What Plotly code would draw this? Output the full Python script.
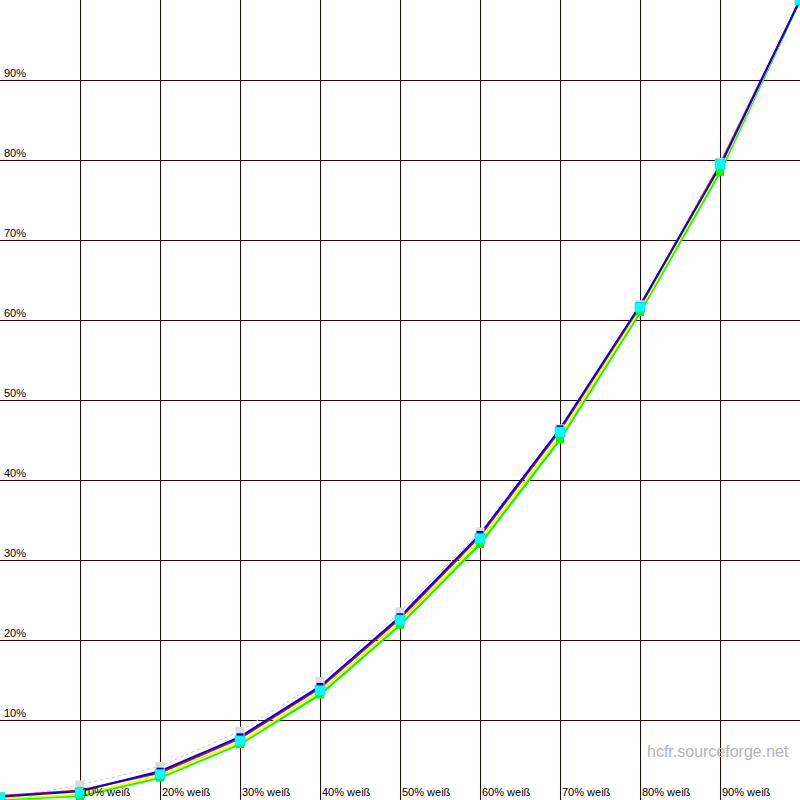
import plotly.graph_objects as go

levels = [0, 10, 20, 30, 40, 50, 60, 70, 80, 90, 100]
ref_gray = [0.0, 1.9, 4.2, 8.6, 14.8, 23.5, 33.5, 46.4, 61.9, 79.7, 100]
lum_cyan = [0.3, 0.9, 3.2, 7.4, 13.7, 22.5, 32.7, 46.0, 61.6, 79.5, 100]
red = [0.5, 1.2, 3.4, 7.7, 14.0, 22.7, 33.0, 46.2, 61.7, 79.4, 100]
green = [0.1, 0.5, 2.8, 7.0, 13.2, 21.9, 32.0, 45.1, 61.0, 78.5, 100]
blue = [0.4, 1.1, 3.6, 7.9, 14.2, 22.9, 33.2, 46.4, 61.8, 79.2, 100]
yellow = [0.2, 0.7, 3.0, 7.2, 13.5, 22.2, 32.4, 45.5, 61.3, 78.9, 100]
y_labels = ["10%", "20%", "30%", "40%", "50%", "60%", "70%", "80%", "90%"]
x_labels = ["10% weiß", "20% weiß", "30% weiß", "40% weiß", "50% weiß",
            "60% weiß", "70% weiß", "80% weiß", "90% weiß"]
tick_vals = [10, 20, 30, 40, 50, 60, 70, 80, 90]

fig = go.Figure()
fig.add_trace(go.Scatter(x=levels, y=ref_gray, mode="lines",
                         line=dict(color="#C8C8C8", width=1, dash="dot")))
fig.add_trace(go.Scatter(x=levels, y=green, mode="lines", line=dict(color="#00FF00", width=2.5)))
fig.add_trace(go.Scatter(x=levels, y=yellow, mode="lines", line=dict(color="#FFFF00", width=2)))
fig.add_trace(go.Scatter(x=levels, y=red, mode="lines", line=dict(color="#FF0000", width=2)))
fig.add_trace(go.Scatter(x=levels, y=blue, mode="lines", line=dict(color="#0000FF", width=2)))
fig.add_trace(go.Scatter(x=levels, y=ref_gray, mode="markers",
                         marker=dict(symbol="square", size=9, color="#DCDCDC", line=dict(width=0))))
fig.add_trace(go.Scatter(x=levels, y=blue, mode="markers",
                         marker=dict(symbol="square", size=7, color="#0000C0", line=dict(width=0))))
fig.add_trace(go.Scatter(x=levels, y=green, mode="markers",
                         marker=dict(symbol="square", size=8, color="#00FF00", line=dict(width=0))))
fig.add_trace(go.Scatter(x=levels, y=lum_cyan, mode="markers",
                         marker=dict(symbol="square", size=10, color="#00FFFF",
                                     line=dict(width=0.5, color="#00C8C8"))))

annotations = []
for v, t in zip(tick_vals, y_labels):
    annotations.append(dict(x=0, y=v, xref="x", yref="y", text=t, showarrow=False,
                            xanchor="left", yanchor="bottom", xshift=2, yshift=-1,
                            font=dict(family="Liberation Sans, Arial", size=11, color="#000000")))
for v, t in zip(tick_vals, x_labels):
    annotations.append(dict(x=v, y=0, xref="x", yref="y", text=t, showarrow=False,
                            xanchor="left", yanchor="bottom", xshift=0, yshift=0,
                            font=dict(family="Liberation Sans, Arial", size=11, color="#000000")))
annotations.append(dict(x=1, y=0, xref="paper", yref="paper", text="hcfr.sourceforge.net",
                        showarrow=False, xanchor="right", yanchor="bottom", xshift=-9, yshift=38,
                        font=dict(family="Liberation Sans, Arial", size=16, color="#B4B4B4")))

fig.update_layout(
    width=800, height=800, margin=dict(l=0, r=0, t=0, b=0),
    paper_bgcolor="white", plot_bgcolor="white", showlegend=False,
    annotations=annotations,
    xaxis=dict(range=[0, 100], tickvals=tick_vals, showticklabels=False,
               showgrid=True, gridcolor="#2A0808", gridwidth=1.3, zeroline=False,
               showline=True, linecolor="#2A0808", linewidth=2, mirror=False),
    yaxis=dict(range=[0, 100], tickvals=tick_vals, showticklabels=False,
               showgrid=True, gridcolor="#2A0808", gridwidth=1.3, zeroline=False,
               showline=True, linecolor="#2A0808", linewidth=2),
)
fig.write_html("out.html", config={"displayModeBar": False},
               post_script="document.body.style.margin='0';document.body.style.overflow='hidden';")
